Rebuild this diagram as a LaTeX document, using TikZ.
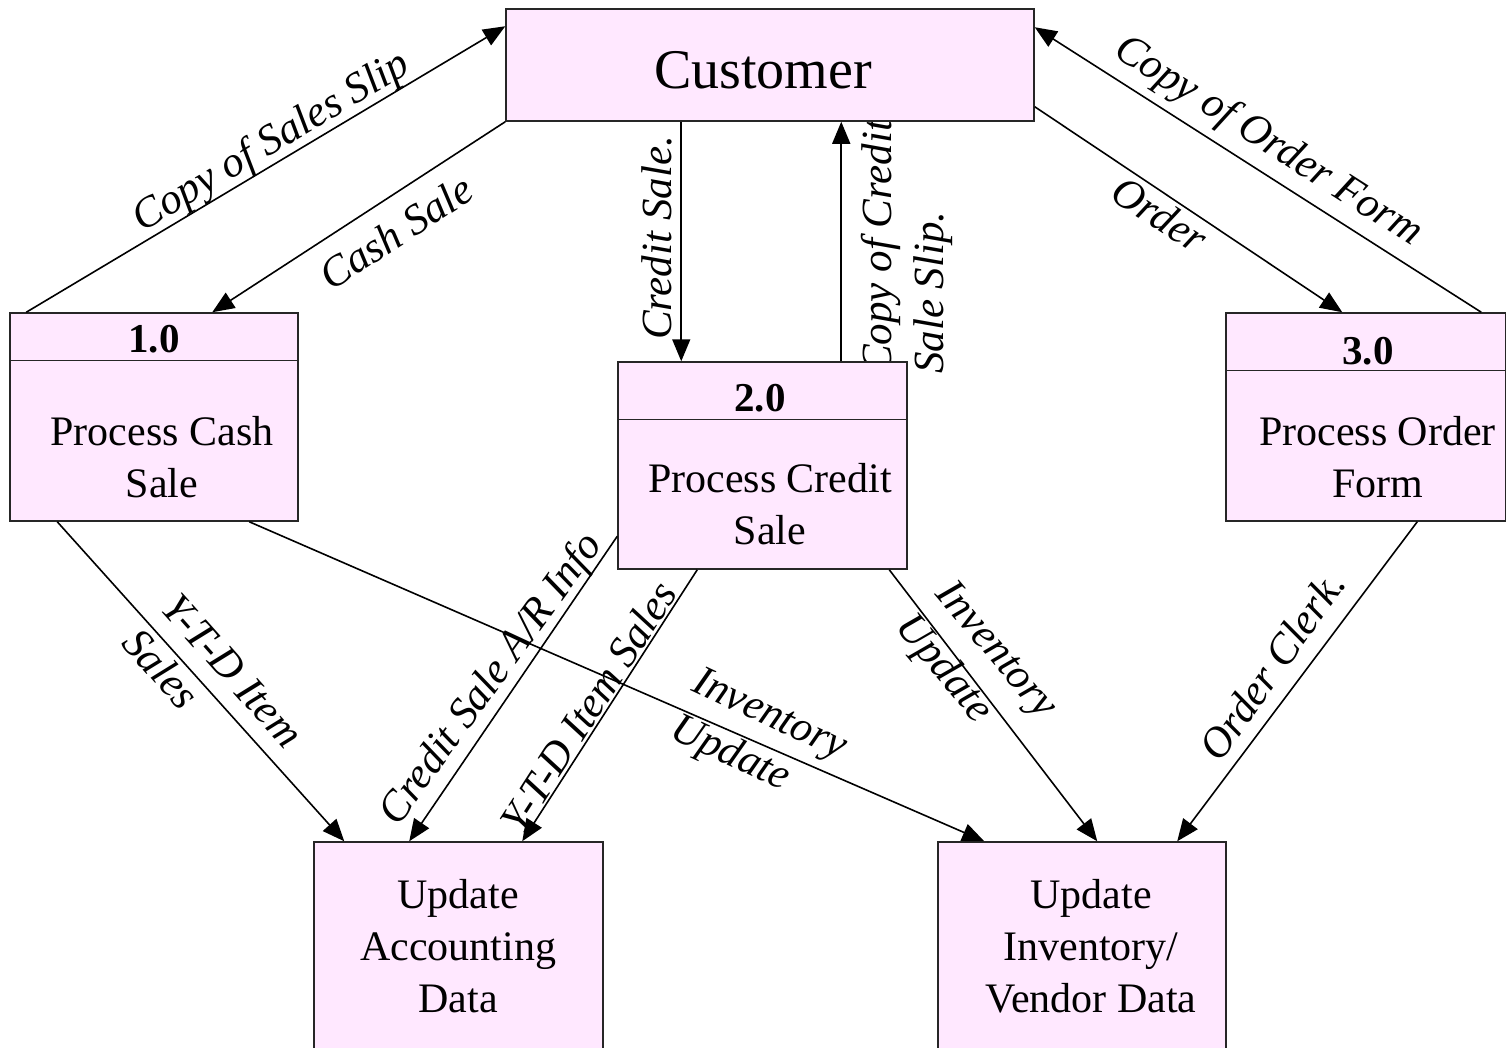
\documentclass[tikz,border=0pt]{standalone}
\usepackage{fontspec}
\setmainfont{Liberation Serif}
\usetikzlibrary{arrows.meta,calc}
\definecolor{boxpink}{RGB}{255,232,255}
\begin{document}
\begin{tikzpicture}[x=1pt,y=-1pt,
  boxnode/.style={draw=black!85,line width=1.5pt,fill=boxpink,rectangle,inner sep=0pt},
  boxtext/.style={font=\fontsize{42}{52}\selectfont,align=center,inner sep=0pt},
  numtext/.style={font=\fontsize{41}{48}\selectfont\bfseries,inner sep=0pt},
  flowlabel/.style={font=\fontsize{43}{52}\selectfont\itshape,inner sep=0pt},
  flow/.style={line width=1.6pt,-{Triangle[length=22pt,width=18pt]}}]
\useasboundingbox (0,0) rectangle (1506,1047);
\clip (0,0) rectangle (1506,1047);
\fill[white] (0,0) rectangle (1506,1047);

% labels under boxes
\node[flowlabel,rotate=90,align=left,anchor=north west] (lCCS) at (861,374) {Copy of Credit\\Sale Slip.};
\node[flowlabel,rotate=30.8] (lCSS) at (272,143) {Copy of Sales Slip};
\node[flowlabel,rotate=33] (lCash) at (396,232) {Cash Sale};
\node[flowlabel,rotate=90] (lCred) at (657,238) {Credit Sale.};
\node[flowlabel,rotate=-32.5] (lCOF) at (1268,142) {Copy of Order Form};
\node[flowlabel,rotate=-33] (lOrd) at (1160,214) {Order};
\node[flowlabel,rotate=-48.3,align=left] (lYTD1) at (213,688) {Y-T-D Item\\Sales};
\node[flowlabel,rotate=54] (lAR) at (492,680) {Credit Sale A/R Info};
\node[flowlabel,rotate=57.3] (lYTD2) at (588,707) {Y-T-D Item Sales};
\node[flowlabel,rotate=-25,align=left] (lInv1) at (758,740) {Inventory\\Update};
\node[flowlabel,rotate=-50,align=left] (lInv2) at (975,668) {Inventory\\Update};
\node[flowlabel,rotate=54.8] (lOC) at (1272,665) {Order Clerk.};

% boxes
\node[boxnode,minimum width=528pt,minimum height=112pt] (cust) at (770,65) {};
\node[font=\fontsize{56}{64}\selectfont,inner sep=0pt] (custT) at (763,70) {Customer};

\node[boxnode,minimum width=288pt,minimum height=208pt] (b1) at (154,417) {};
\node[boxnode,minimum width=289pt,minimum height=207pt] (b2) at (762.5,465.5) {};
\node[boxnode,minimum width=279.5pt,minimum height=208pt] (b3) at (1365.75,417) {};
\node[boxnode,minimum width=289pt,minimum height=218pt] (ua) at (458.5,951) {};
\node[boxnode,minimum width=288pt,minimum height=218pt] (ui) at (1082,951) {};

\draw[line width=1.5pt,black!85] ($(b1.north west)+(0,48)$) -- ($(b1.north east)+(0,48)$);
\draw[line width=1.5pt,black!85] ($(b2.north west)+(0,58)$) -- ($(b2.north east)+(0,58)$);
\draw[line width=1.5pt,black!85] ($(b3.north west)+(0,58)$) -- ($(b3.north east)+(0,58)$);

\node[numtext] (n1) at (154,339) {1.0};
\node[numtext] (n2) at (760,398) {2.0};
\node[numtext] (n3) at (1368,351) {3.0};
\node[boxtext] (t1) at (162,457) {Process Cash\\Sale};
\node[boxtext] (t2) at (770,504) {Process Credit\\Sale};
\node[boxtext] (t3) at (1377.5,457) {Process Order\\Form};
\node[boxtext] (tua) at (458,946) {Update\\Accounting\\Data};
\node[boxtext] (tui) at (1091,946) {Update\\Inventory/\\Vendor Data};

% connectors
\draw[flow] ($(b1.north west)+(17,0)$) -- ($(cust.north west)+(0,18)$);
\draw[flow] (cust.south west) -- ($(b1.north west)+(203,0)$);
\draw[flow] ($(cust.south west)+(176,0)$) -- ($(b2.north west)+(64,0)$);
\draw[flow] ($(b2.north west)+(224,0)$) -- ($(cust.south west)+(336,0)$);
\draw[flow] ($(b3.north west)+(256,0)$) -- ($(cust.north east)+(0,19)$);
\draw[flow] ($(cust.south east)+(0,-15)$) -- ($(b3.north west)+(117,0)$);
\draw[flow] ($(b1.south west)+(48,0)$) -- ($(ua.north west)+(31,0)$);
\draw[flow] ($(b1.south west)+(240,0)$) -- ($(ui.north west)+(47,0)$);
\draw[flow] ($(b2.north west)+(0,175)$) -- ($(ua.north west)+(96,0)$);
\draw[flow] ($(b2.south west)+(80,0)$) -- ($(ua.north west)+(209,0)$);
\draw[flow] ($(b2.south west)+(272,0)$) -- ($(ui.north west)+(160,0)$);
\draw[flow] ($(b3.south west)+(192,0)$) -- ($(ui.north west)+(240,0)$);
\end{tikzpicture}
\end{document}
